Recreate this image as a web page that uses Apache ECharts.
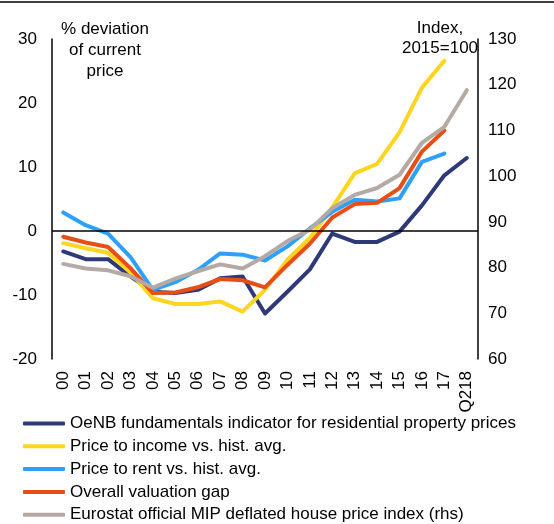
<!DOCTYPE html>
<html>
<head>
<meta charset="utf-8">
<script src="https://cdn.jsdelivr.net/npm/echarts@6/dist/echarts.min.js"></script>
<style>
html, body { margin: 0; padding: 0; background: #fff; }
#chart { width: 554px; height: 524px; }
</style>
</head>
<body>
<div id="chart"></div>
<script>
// x 轴标签
var years = ['00', '01', '02', '03', '04', '05', '06', '07', '08', '09', '10', '11', '12', '13', '14', '15', '16', '17', 'Q218'];
// 左轴 (% deviation)
var fundamentals = [-3.2, -4.4, -4.4, -7.1, -9.5, -9.7, -9.2, -7.4, -7.1, -12.9, -9.5, -6.0, -0.4, -1.7, -1.7, -0.1, 4.0, 8.7, 11.4];
var priceIncome = [-1.9, -2.7, -3.4, -6.5, -10.5, -11.4, -11.4, -11.0, -12.6, -9.2, -4.5, -1.1, 3.7, 9.0, 10.5, 15.4, 22.4, 26.6];
var priceRent = [2.9, 0.9, -0.4, -4.1, -9.2, -8.0, -6.1, -3.5, -3.7, -4.6, -2.4, 0.4, 3.0, 4.9, 4.6, 5.1, 10.8, 12.1];
var valuationGap = [-0.9, -1.8, -2.5, -5.8, -9.7, -9.6, -8.8, -7.5, -7.7, -8.8, -5.3, -2.0, 2.1, 4.2, 4.4, 6.7, 12.4, 15.7];
// 右轴 (Index, 2015=100)
var eurostat = [80.8, 79.8, 79.4, 78.1, 75.6, 77.6, 79.2, 80.7, 79.8, 82.5, 85.8, 88.3, 93.0, 95.9, 97.4, 100.3, 107.3, 110.8, 118.8];

var names = [
	'OeNB fundamentals indicator for residential property prices',
	'Price to income vs. hist. avg.',
	'Price to rent vs. hist. avg.',
	'Overall valuation gap',
	'Eurostat official MIP deflated house price index (rhs)'
];
var colors = ['#2E3A78', '#FFD520', '#2FA0FA', '#E84E14', '#B4AAA3'];
var font = 'Liberation Sans, Arial, sans-serif';

function lineSeries(name, data, yIdx) {
	return {
		name: name,
		type: 'line',
		yAxisIndex: yIdx,
		data: data,
		symbol: 'none',
		smooth: false,
		lineStyle: { width: 4, cap: 'round', join: 'round' },
		emphasis: { disabled: true }
	};
}

var myChart = echarts.init(document.getElementById('chart'));
var series = [
	lineSeries(names[0], fundamentals, 0),
	lineSeries(names[1], priceIncome, 0),
	lineSeries(names[2], priceRent, 0),
	lineSeries(names[3], valuationGap, 0),
	lineSeries(names[4], eurostat, 1)
];
// 零线
series[0].markLine = {
	silent: true,
	symbol: 'none',
	label: { show: false },
	lineStyle: { color: '#000', width: 1.5, type: 'solid' },
	data: [{ yAxis: 0 }]
};
series[0].z = 1;

var option = {
	animation: false,
	color: colors,
	textStyle: { fontFamily: font },
	grid: { left: 52, right: 76, top: 39, height: 320 },
	xAxis: {
		type: 'category',
		data: years,
		boundaryGap: true,
		axisLine: { show: false },
		axisTick: { show: false },
		axisLabel: { rotate: 90, fontSize: 17, color: '#000', margin: 12, fontFamily: font, interval: 0 }
	},
	yAxis: [{
		type: 'value',
		min: -20,
		max: 30,
		interval: 10,
		splitLine: { show: false },
		axisTick: { show: false },
		axisLine: { show: true, lineStyle: { color: '#000', width: 1.5 } },
		axisLabel: { fontSize: 17, color: '#000', margin: 15, fontFamily: font }
	}, {
		type: 'value',
		min: 60,
		max: 130,
		interval: 10,
		position: 'right',
		splitLine: { show: false },
		axisTick: { show: false },
		axisLine: { show: true, lineStyle: { color: '#000', width: 1.5 } },
		axisLabel: { fontSize: 17, color: '#000', margin: 10, fontFamily: font }
	}],
	legend: {
		orient: 'vertical',
		left: 23,
		top: 415,
		padding: 0,
		itemGap: 5.8,
		itemWidth: 42,
		itemHeight: 4,
		icon: 'roundRect',
		selectedMode: false,
		textStyle: { fontSize: 17, color: '#000', fontFamily: font, padding: [0, 0, 0, 0] },
		data: names
	},
	graphic: [{
		type: 'line',
		shape: { x1: 0, y1: 2, x2: 554, y2: 2 },
		style: { stroke: '#000', lineWidth: 1.5 }
	}, {
		type: 'text',
		x: 105,
		y: 19,
		style: {
			text: '% deviation\nof current\nprice',
			align: 'center',
			verticalAlign: 'top',
			fontSize: 17,
			lineHeight: 21,
			fill: '#000',
			fontFamily: font
		}
	}, {
		type: 'text',
		x: 440,
		y: 18,
		style: {
			text: 'Index,\n2015=100',
			align: 'center',
			verticalAlign: 'top',
			fontSize: 17,
			lineHeight: 20,
			fill: '#000',
			fontFamily: font
		}
	}],
	series: series
};
myChart.setOption(option);
</script>
</body>
</html>
